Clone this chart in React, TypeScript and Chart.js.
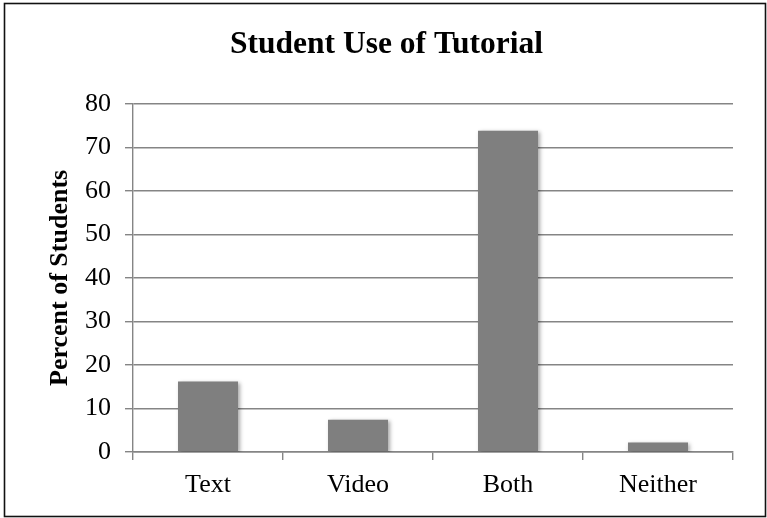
import React, { useEffect, useRef } from "react";
import { Chart, registerables } from "chart.js";

Chart.register(...registerables);

const categories = ["Text", "Video", "Both", "Neither"];
const percentValues = [16.2, 7.4, 73.8, 2.2];
const chartTitle = "Student Use of Tutorial";
const yAxisTitle = "Percent of Students";
const yMin = 0;
const yMax = 80;
const yStep = 10;

const FONT = "'Liberation Serif', 'Times New Roman', serif";
const GRID = "#858585";

const shadowPlugin = {
  id: "barShadow",
  beforeDatasetsDraw(chart: any) {
    const ctx = chart.ctx;
    ctx.save();
    ctx.shadowColor = "rgba(0,0,0,0.35)";
    ctx.shadowBlur = 4;
    ctx.shadowOffsetX = 1.5;
    ctx.shadowOffsetY = 1.5;
  },
  afterDatasetsDraw(chart: any) {
    chart.ctx.restore();
  },
};

const borderPlugin = {
  id: "outerBorder",
  afterDraw(chart: any) {
    const ctx = chart.ctx;
    ctx.save();
    ctx.strokeStyle = "#111";
    ctx.lineWidth = 1.6;
    ctx.strokeRect(4.5, 3.5, 761, 513);
    ctx.restore();
  },
};

export default function App() {
  const canvasRef = useRef<HTMLCanvasElement | null>(null);

  useEffect(() => {
    document.body.style.margin = "0";
    const canvas = canvasRef.current;
    if (!canvas) return;
    const chart = new Chart(canvas, {
      type: "bar",
      data: {
        labels: categories,
        datasets: [
          {
            data: percentValues,
            backgroundColor: "#7f7f7f",
            borderWidth: 0,
            categoryPercentage: 1,
            barPercentage: 0.4,
          },
        ],
      },
      options: {
        animation: false,
        responsive: false,
        devicePixelRatio: 1,
        layout: { padding: { top: 0, left: 40, right: 34, bottom: 0 } },
        plugins: {
          legend: { display: false },
          tooltip: { enabled: false },
          title: {
            display: true,
            text: chartTitle,
            color: "#000",
            font: { family: FONT, size: 31.5, weight: "bold" },
            padding: { top: 26, bottom: 40 },
          },
        },
        scales: {
          x: {
            afterFit(scale: any) {
              scale.height = 66;
            },
            grid: {
              display: true,
              drawOnChartArea: false,
              drawTicks: true,
              tickLength: 8,
              color: GRID,
              lineWidth: 1.4,
              offset: true,
            },
            border: { display: true, color: GRID, width: 1.4 },
            ticks: {
              color: "#000",
              font: { family: FONT, size: 26 },
              padding: 10,
              maxRotation: 0,
            },
          },
          y: {
            min: yMin,
            max: yMax,
            afterFit(scale: any) {
              scale.width = 93;
            },
            grid: {
              color: GRID,
              lineWidth: 1.4,
              tickLength: 8,
              drawTicks: true,
            },
            border: { display: true, color: GRID, width: 1.4 },
            ticks: {
              stepSize: yStep,
              color: "#000",
              font: { family: FONT, size: 26 },
              padding: 14,
            },
            title: {
              display: true,
              text: yAxisTitle,
              color: "#000",
              font: { family: FONT, size: 26, weight: "bold" },
              padding: { top: 5, bottom: 0 },
            },
          },
        },
      },
      plugins: [shadowPlugin, borderPlugin],
    } as any);
    return () => chart.destroy();
  }, []);

  return (
    <div style={{ width: 767, height: 518, position: "relative" }}>
      <canvas ref={canvasRef} width={767} height={518} style={{ display: "block" }} />
    </div>
  );
}
